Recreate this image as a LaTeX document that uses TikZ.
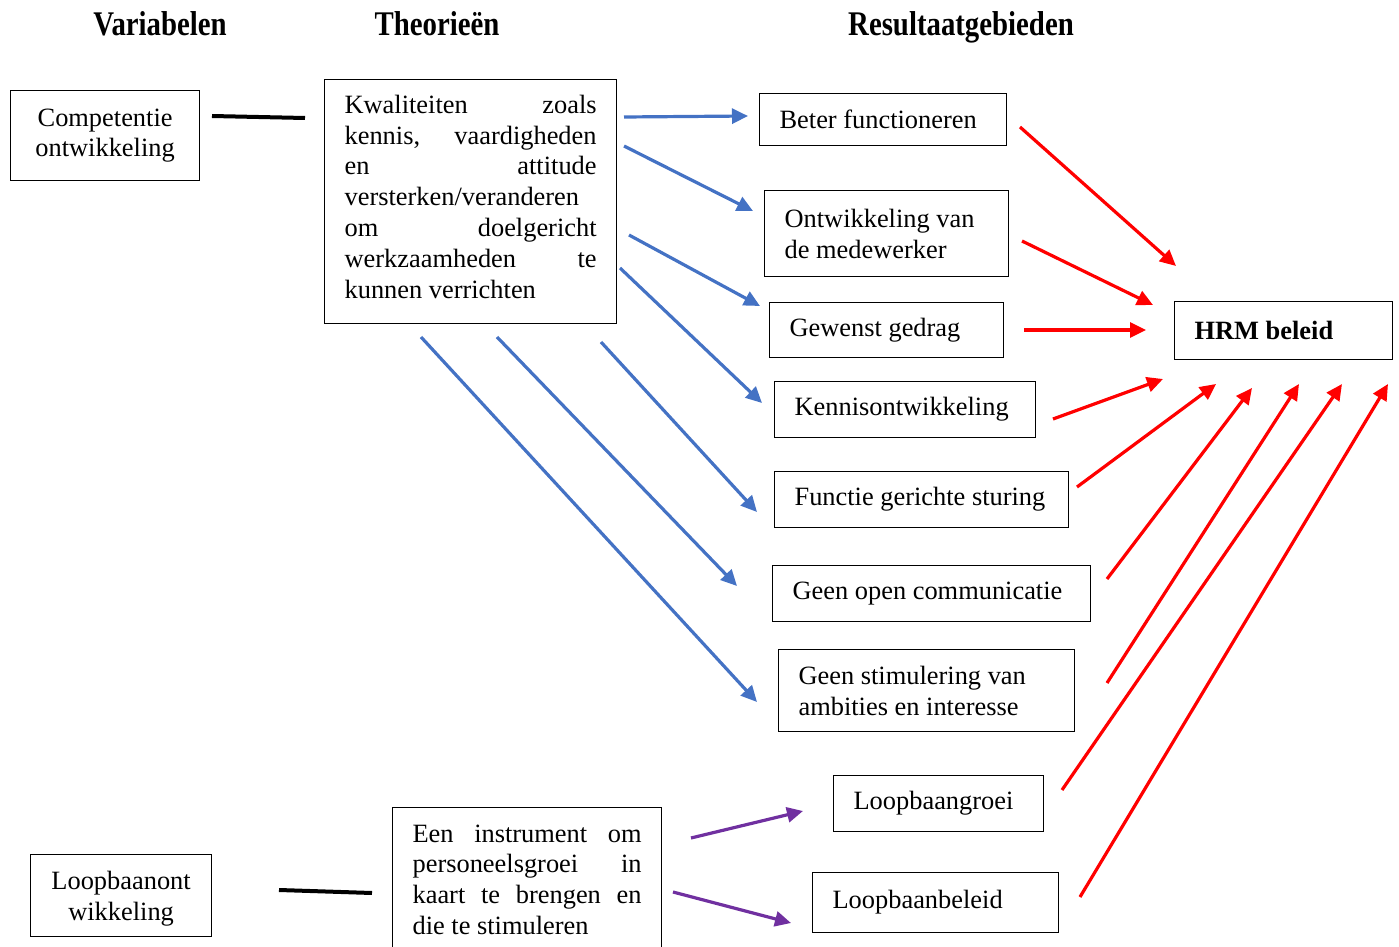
\documentclass[tikz,border=0pt]{standalone}
\usepackage{fontspec}
\setmainfont{Liberation Serif}
\usetikzlibrary{arrows.meta}
\definecolor{bl}{HTML}{4472C4}
\definecolor{rd}{HTML}{FF0000}
\definecolor{pu}{HTML}{7030A0}
\newcommand\bxt[2][10pt]{\leftskip=10pt\rightskip=#1 plus 1fil\spaceskip=0pt\xspaceskip=0pt\relax #2\par}
\begin{document}
\begin{tikzpicture}[x=0.5pt,y=-0.5pt,
  every node/.style={font=\fontsize{13.2pt}{15.4pt}\selectfont},
  box/.style={draw, line width=0.6pt, anchor=north west, inner xsep=0pt, inner ysep=0pt, align=left},
  hdr/.style={font=\fontsize{14.4pt}{17pt}\selectfont\bfseries, anchor=base, inner sep=0pt},
  conn/.style={line width=2pt, black},
  barr/.style={draw=bl, line width=1.6pt, -{Triangle[length=8pt,width=7.5pt]}},
  rarr/.style={draw=rd, line width=1.6pt, -{Triangle[length=8pt,width=7.5pt]}},
  parr/.style={draw=pu, line width=1.6pt, -{Triangle[length=8pt,width=7.5pt]}}]
\useasboundingbox (0,0) rectangle (1399,947);

% headers
\node[hdr] (hvar) at (160,36) {\scalebox{1}[1.2]{Variabelen}};
\node[hdr] (htheo) at (437,36) {\scalebox{1}[1.2]{Theorieën}};
\node[hdr] (hres) at (961,36) {\scalebox{1}[1.2]{Resultaatgebieden}};

% left column
\node[box, align=center, text width=94.5pt, minimum height=45pt] (comp) at (10,90) {Competentie\\ontwikkeling};
\node[box, align=center, text width=90.5pt, minimum height=41pt] (loopont) at (30,854) {Loopbaanont\\wikkeling\par\kern-3pt};

% theory boxes
\node[box, text width=146pt, minimum height=122pt] (kwal) at (324,79) {\bxt{Kwaliteiten\hfill zoals\\kennis,\hfill vaardigheden\\en\hfill attitude\\versterken/veranderen\\om\hfill doelgericht\\werkzaamheden\hfill te\\kunnen verrichten}\kern5pt};
\node[box, text width=134.5pt, minimum height=72pt] (instr) at (392,807) {\bxt{Een\hfill instrument\hfill om\\personeelsgroei\hfill in\\kaart\hfill te\hfill brengen\hfill en\\die te stimuleren}};

% result boxes
\node[box, text width=123.5pt, minimum height=26pt] (beter) at (759,93) {\bxt{Beter functioneren}};
\node[box, text width=122pt, minimum height=43pt] (ontw) at (764,190) {\bxt{Ontwikkeling van\\de medewerker}};
\node[box, text width=117pt, minimum height=27.5pt] (gew) at (769,302) {\bxt{Gewenst gedrag}};
\node[box, text width=130.5pt, minimum height=28pt] (kenn) at (774,381) {\bxt[2pt]{Kennisontwikkeling}};
\node[box, text width=147pt, minimum height=28pt] (func) at (774,471) {\bxt[2pt]{Functie gerichte sturing}};
\node[box, text width=159pt, minimum height=28pt] (geen1) at (772,565) {\bxt[2pt]{Geen open communicatie}};
\node[box, text width=148pt, minimum height=41pt] (geen2) at (778,649) {\bxt{Geen stimulering van\\ambities en interesse}};
\node[box, text width=105pt, minimum height=28pt] (lgroei) at (833,775) {\bxt{Loopbaangroei}};
\node[box, text width=123pt, minimum height=30pt] (lbeleid) at (812,872) {\bxt{Loopbaanbeleid}};
\node[box, text width=109pt, minimum height=29pt] (hrm) at (1174,301) {\bxt{\bfseries HRM beleid}};

% black connectors
\coordinate (k1a) at (212,116); \coordinate (k1b) at (305,118);
\coordinate (k2a) at (279,890); \coordinate (k2b) at (372,893);
\draw[conn] (k1a) -- (k1b);
\draw[conn] (k2a) -- (k2b);

% blue arrows
\coordinate (b1s) at (624,117); \coordinate (b1e) at (748,116);
\coordinate (b2s) at (624,146); \coordinate (b2e) at (753,211);
\coordinate (b3s) at (629,235); \coordinate (b3e) at (760,306);
\coordinate (b4s) at (620,268); \coordinate (b4e) at (762,403);
\coordinate (b5s) at (601,342); \coordinate (b5e) at (757,512);
\coordinate (b6s) at (497,337); \coordinate (b6e) at (737,586);
\coordinate (b7s) at (421,337); \coordinate (b7e) at (757,702);
\foreach \i in {1,...,7} {\draw[barr] (b\i s) -- (b\i e);}

% purple arrows
\coordinate (p1s) at (691,838); \coordinate (p1e) at (803,811);
\coordinate (p2s) at (673,892); \coordinate (p2e) at (791,923);
\draw[parr] (p1s) -- (p1e);
\draw[parr] (p2s) -- (p2e);

% red arrows
\coordinate (r1s) at (1020,127); \coordinate (r1e) at (1176,266);
\coordinate (r2s) at (1022,241); \coordinate (r2e) at (1153,305);
\coordinate (r3s) at (1024,330); \coordinate (r3e) at (1146,330);
\coordinate (r4s) at (1053,419); \coordinate (r4e) at (1163,379);
\coordinate (r5s) at (1077,487); \coordinate (r5e) at (1216,384);
\coordinate (r6s) at (1107,579); \coordinate (r6e) at (1252,388);
\coordinate (r7s) at (1107,683); \coordinate (r7e) at (1299,384);
\coordinate (r8s) at (1062,790); \coordinate (r8e) at (1342,384);
\coordinate (r9s) at (1080,897); \coordinate (r9e) at (1388,384);
\foreach \i in {1,...,9} {\draw[rarr] (r\i s) -- (r\i e);}
\end{tikzpicture}
\end{document}
